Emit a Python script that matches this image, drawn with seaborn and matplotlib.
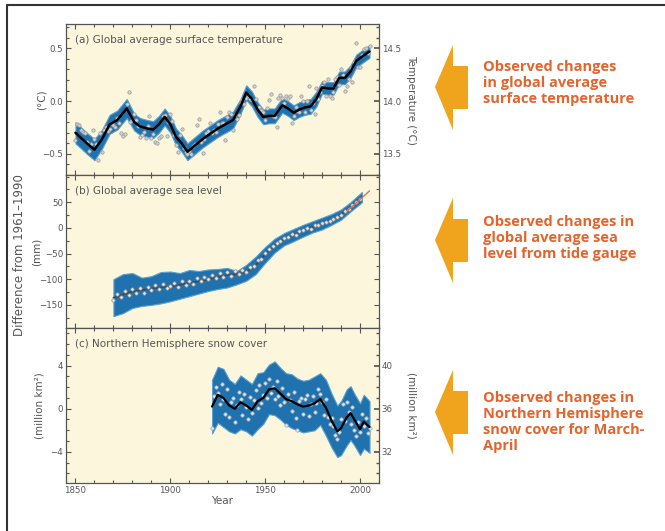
import numpy as np
import pandas as pd
import matplotlib
matplotlib.use("Agg")
import matplotlib.pyplot as plt
import seaborn as sns
from matplotlib.patches import Polygon
from matplotlib.lines import Line2D
from matplotlib.ticker import MultipleLocator

# ---------------- data ----------------
temp_years = [1850, 1853, 1856, 1860, 1864, 1868, 1872, 1877, 1881, 1884, 1888, 1891, 1894, 1897, 1900,
              1903, 1906, 1909, 1913, 1917, 1921, 1925, 1929, 1933, 1937, 1940, 1943, 1946, 1949, 1952,
              1955, 1959, 1962, 1965, 1968, 1971, 1974, 1977, 1980, 1983, 1986, 1989, 1992, 1995, 1998,
              2001, 2005]
temp_smooth = [-0.30, -0.35, -0.40, -0.46, -0.36, -0.22, -0.18, -0.07, -0.20, -0.24, -0.26, -0.27, -0.22,
               -0.15, -0.22, -0.34, -0.40, -0.48, -0.42, -0.36, -0.31, -0.26, -0.22, -0.18, -0.05, 0.08,
               0.02, -0.08, -0.15, -0.14, -0.14, -0.04, -0.07, -0.11, -0.08, -0.06, -0.05, 0.02, 0.13,
               0.12, 0.12, 0.22, 0.22, 0.28, 0.38, 0.42, 0.47]
temp_halfwidth = [0.10, 0.10, 0.10, 0.10, 0.09, 0.09, 0.09, 0.09, 0.08, 0.08, 0.08, 0.08, 0.08, 0.08, 0.08,
                  0.08, 0.08, 0.08, 0.08, 0.08, 0.08, 0.08, 0.08, 0.08, 0.07, 0.07, 0.07, 0.07, 0.07, 0.07,
                  0.07, 0.07, 0.07, 0.07, 0.07, 0.07, 0.07, 0.07, 0.06, 0.06, 0.06, 0.06, 0.06, 0.06, 0.06,
                  0.06, 0.06]
temp_annual = [-0.37, -0.22, -0.23, -0.27, -0.29, -0.30, -0.39, -0.47, -0.41, -0.27,
               -0.36, -0.41, -0.56, -0.30, -0.48, -0.27, -0.25, -0.28, -0.26, -0.21,
               -0.23, -0.25, -0.16, -0.21, -0.30, -0.33, -0.31, -0.03, 0.09, -0.20,
               -0.18, -0.12, -0.18, -0.24, -0.34, -0.32, -0.29, -0.35, -0.24, -0.14,
               -0.35, -0.31, -0.39, -0.40, -0.35, -0.33, -0.14, -0.13, -0.33, -0.20,
               -0.12, -0.19, -0.32, -0.42, -0.48, -0.32, -0.26, -0.44, -0.48, -0.50,
               -0.47, -0.50, -0.43, -0.41, -0.23, -0.17, -0.39, -0.49, -0.36, -0.30,
               -0.28, -0.21, -0.30, -0.27, -0.29, -0.22, -0.10, -0.21, -0.21, -0.37,
               -0.15, -0.10, -0.12, -0.27, -0.13, -0.17, -0.13, -0.02, 0.01, -0.03,
               0.03, 0.05, 0.02, 0.01, 0.14, 0.02, -0.07, -0.06, -0.08, -0.10,
               -0.18, -0.07, 0.01, 0.07, -0.14, -0.15, -0.25, 0.03, 0.06, 0.03,
               -0.02, 0.05, 0.03, 0.05, -0.21, -0.14, -0.06, -0.09, -0.10, 0.05,
               0.00, -0.10, 0.00, 0.14, -0.08, -0.02, -0.12, 0.12, 0.02, 0.09,
               0.14, 0.18, 0.05, 0.21, 0.05, 0.03, 0.09, 0.21, 0.23, 0.15,
               0.30, 0.25, 0.10, 0.14, 0.21, 0.31, 0.18, 0.37, 0.55, 0.32,
               0.32, 0.44, 0.49, 0.50, 0.46, 0.52]
temp_annual_years = list(range(1850, 1850 + len(temp_annual)))

sea_years = [1870, 1875, 1880, 1885, 1890, 1895, 1900, 1905, 1910, 1915, 1920, 1925, 1930, 1935,
             1940, 1945, 1950, 1955, 1960, 1965, 1970, 1975, 1980, 1985, 1990, 1995, 2001]
sea_smooth = [-136, -130, -124, -121, -118, -116, -114, -111, -107, -104, -100, -96, -92, -90,
              -86, -73, -52, -34, -22, -14, -5, 2, 9, 16, 26, 41, 60]
sea_upper = [-100, -90, -88, -97, -94, -86, -85, -88, -82, -84, -81, -80, -78, -84,
             -72, -56, -37, -21, -10, -2, 6, 13, 20, 27, 36, 50, 70]
sea_lower = [-172, -166, -156, -152, -150, -147, -143, -138, -133, -128, -123, -119, -116, -110,
             -103, -90, -68, -48, -34, -26, -17, -9, -3, 6, 16, 32, 50]
sea_annual = [-140, -128, -135, -122, -130, -120, -127, -118, -126, -115, -121, -112, -119, -110,
              -118, -113, -108, -116, -104, -111, -103, -109, -98, -104, -95, -100, -92, -97,
              -88, -95, -86, -93, -84, -90, -82, -86, -77, -74, -63, -60, -48, -42, -36, -30,
              -26, -20, -18, -12, -14, -6, -5, 0, -2, 5, 6, 10, 12, 14, 18, 22, 25, 32, 36,
              44, 50, 57]
sea_annual_years = list(range(1870, 1870 + 2 * len(sea_annual), 2))
alt_years = [1993, 1996, 1999, 2002, 2005]
alt_values = [33, 42, 52, 62, 72]

snow_years = [1922, 1925, 1928, 1931, 1934, 1937, 1940, 1943, 1946, 1949, 1952, 1955, 1958, 1961, 1964,
              1967, 1970, 1973, 1976, 1979, 1982, 1985, 1988, 1990, 1993, 1995, 1997, 2000, 2002, 2005]
snow_smooth = [0.2, 1.3, 1.0, 0.3, 0.0, 0.6, 0.3, -0.1, 0.7, 1.0, 1.8, 1.9, 1.4, 0.9, 0.7,
               0.4, 0.2, 0.3, 0.5, 0.9, 0.1, -1.1, -2.1, -1.8, -0.8, -0.4, -1.0, -1.9, -1.2, -1.7]
snow_halfwidth = [2.5, 2.6, 2.7, 2.4, 2.3, 2.5, 2.4, 2.4, 2.6, 2.4, 2.3, 2.5, 2.4, 2.4, 2.5,
                  2.4, 2.4, 2.4, 2.5, 2.4, 2.6, 2.5, 2.4, 2.5, 2.6, 2.5, 2.4, 2.4, 2.5, 2.4]
snow_annual = [-1.8, 1.2, 2.0, 1.5, 0.4, 2.3, 0.9, -0.5, 1.8, -0.8, 0.6, 1.0, -1.2, 0.3, 1.6, 0.9,
               -0.6, 1.4, 0.2, -1.0, 1.1, -0.4, 0.8, 1.7, 0.1, 2.2, 0.5, 1.3, 2.4, 1.0, 2.8, 1.5,
               2.0, 0.9, 2.6, 1.2, 0.3, 1.9, 0.6, -1.5, 1.4, 0.8, -0.2, 1.6, -0.9, -2.0, 0.7, 1.0,
               -0.5, 0.9, 1.3, -0.7, 0.4, 1.2, -0.3, 0.5, 1.8, 1.4, 0.6, -0.6, 0.9, -0.8, -1.4,
               -0.9, -1.6, -2.4, -2.8, -2.2, -1.0, 0.4, -1.1, 0.6, -0.3, -1.4, 0.2, -2.0, -2.5,
               -1.2, -2.2, -0.5, -1.6, -0.9, -2.3, -1.8]
snow_annual_years = list(range(1922, 1922 + len(snow_annual)))

panel_titles = ["(a) Global average surface temperature", "(b) Global average sea level",
                "(c) Northern Hemisphere snow cover"]
x_ticks = [1850, 1900, 1950, 2000]
arrow_texts = ["Observed changes\nin global average\nsurface temperature",
               "Observed changes in\nglobal average sea\nlevel from tide gauge",
               "Observed changes in\nNorthern Hemisphere\nsnow cover for March-\nApril"]

# ---------------- style ----------------
sns.set_theme(style="ticks")
plt.rcParams['font.family'] = ['DejaVu Sans']
W, H = 665, 531
fig = plt.figure(figsize=(W / 100, H / 100), dpi=100)
fig.patch.set_facecolor("white")

BG = "#fcf6dc"
BAND = "#1f72ae"
TXT = "#555555"
SPINE = "#555555"
TICKFS = 6.2

def px_axes(x0, y0, x1, y1):
    return fig.add_axes([x0 / W, 1 - y1 / H, (x1 - x0) / W, (y1 - y0) / H])

AX0, AX1 = 66, 379
axA = px_axes(AX0, 24, AX1, 175)
axB = px_axes(AX0, 175, AX1, 328)
axC = px_axes(AX0, 328, AX1, 483)

def xcoord(px):
    return (px - AX0) / (AX1 - AX0)

def style_ax(ax, show_x=False):
    ax.set_facecolor(BG)
    for s in ax.spines.values():
        s.set_color(SPINE)
        s.set_linewidth(0.9)
    ax.set_xlim(1845, 2010)
    ax.xaxis.set_major_locator(MultipleLocator(50))
    ax.xaxis.set_minor_locator(MultipleLocator(10))
    ax.tick_params(axis='both', which='both', direction='in', top=True, right=True,
                   colors=SPINE, labelcolor=TXT, labelsize=TICKFS, width=0.8, pad=2)
    ax.tick_params(which='major', length=3.5)
    ax.tick_params(which='minor', length=2)
    if show_x:
        ax.set_xticks(x_ticks)
        ax.set_xticklabels([str(v) for v in x_ticks])
    else:
        ax.tick_params(axis='x', labelbottom=False)
    ax.set_xlabel("")
    ax.set_ylabel("")

def style_twin(ax2):
    ax2.tick_params(axis='y', which='both', direction='in', colors=SPINE, labelcolor=TXT,
                    labelsize=TICKFS, pad=2)
    ax2.tick_params(which='major', length=3.5)
    ax2.tick_params(which='minor', length=2)
    for s in ax2.spines.values():
        s.set_visible(False)

# Panel a
d = pd.DataFrame({"year": temp_years, "v": temp_smooth, "hw": temp_halfwidth})
axA.fill_between(d["year"], d["v"] - d["hw"], d["v"] + d["hw"], color=BAND, lw=0.8, ec="#5aa0d0")
da = pd.DataFrame({"year": temp_annual_years, "v": temp_annual})
sns.scatterplot(data=da, x="year", y="v", ax=axA, s=6, color="#d2d2d2", edgecolor="#999999",
                linewidth=0.5, zorder=3)
sns.lineplot(data=d, x="year", y="v", ax=axA, color="black", lw=1.8, zorder=4)
axA.set_ylim(-0.70, 0.73)
axA.set_yticks([-0.5, 0.0, 0.5])
axA.set_yticklabels(["\u22120.5", "0.0", "0.5"])
axA.yaxis.set_minor_locator(MultipleLocator(0.1))
style_ax(axA)
axA2 = axA.twinx()
axA2.set_ylim(14.0 - 0.70, 14.0 + 0.73)
axA2.set_yticks([13.5, 14.0, 14.5])
axA2.set_yticklabels(["13.5", "14.0", "14.5"])
axA2.yaxis.set_minor_locator(MultipleLocator(0.1))
style_twin(axA2)
axA2.set_ylabel("Temperature (\u00b0C)", rotation=270, fontsize=7.5, color=TXT, va="center")
axA2.yaxis.set_label_coords(xcoord(411), 0.5)
axA.set_ylabel("(\u00b0C)", fontsize=7.5, color=TXT, va="center")
axA.yaxis.set_label_coords(xcoord(42), 0.5)

# Panel b
s_ = pd.DataFrame({"year": sea_years, "v": sea_smooth, "lo": sea_lower, "hi": sea_upper})
axB.fill_between(s_["year"], s_["lo"], s_["hi"], color=BAND, lw=0.8, ec="#5aa0d0")
sa = pd.DataFrame({"year": sea_annual_years, "v": sea_annual})
sns.lineplot(data=s_, x="year", y="v", ax=axB, color="#3a4a5a", lw=1.2, zorder=3)
sns.scatterplot(data=sa, x="year", y="v", ax=axB, s=6, color="#e8e8e8", edgecolor="#8a8a8a",
                linewidth=0.5, zorder=4)
sns.lineplot(x=alt_years, y=alt_values, ax=axB, color="#e07050", lw=1.0, zorder=5)
axB.set_ylim(-195, 103)
axB.set_yticks([-150, -100, -50, 0, 50])
axB.set_yticklabels(["\u2212150", "\u2212100", "\u221250", "0", "50"])
axB.yaxis.set_minor_locator(MultipleLocator(25))
style_ax(axB)
axB.set_ylabel("(mm)", fontsize=7.5, color=TXT, va="center")
axB.yaxis.set_label_coords(xcoord(37), 0.5)

# Panel c
c = pd.DataFrame({"year": snow_years, "v": snow_smooth, "hw": snow_halfwidth})
axC.fill_between(c["year"], c["v"] - c["hw"], c["v"] + c["hw"], color=BAND, lw=0.8, ec="#5aa0d0")
ca = pd.DataFrame({"year": snow_annual_years, "v": snow_annual})
sns.scatterplot(data=ca, x="year", y="v", ax=axC, s=6, color="#dfe6ec", edgecolor="#9aaaba",
                linewidth=0.5, zorder=3)
sns.lineplot(data=c, x="year", y="v", ax=axC, color="black", lw=1.6, zorder=4)
axC.set_ylim(-6.9, 7.5)
axC.set_yticks([-4, 0, 4])
axC.set_yticklabels(["\u22124", "0", "4"])
axC.yaxis.set_minor_locator(MultipleLocator(1))
style_ax(axC, show_x=True)
axC.set_xlabel("Year", fontsize=7.5, color=TXT, labelpad=1)
axC.set_ylabel("(million km\u00b2)", fontsize=7.5, color=TXT, va="center")
axC.yaxis.set_label_coords(xcoord(40), 0.5)
axC2 = axC.twinx()
axC2.set_ylim(36 - 6.9, 36 + 7.5)
axC2.set_yticks([32, 36, 40])
axC2.yaxis.set_minor_locator(MultipleLocator(1))
style_twin(axC2)
axC2.set_ylabel("(million km\u00b2)", rotation=270, fontsize=7.5, color=TXT, va="center")
axC2.yaxis.set_label_coords(xcoord(411), 0.5)

for ax, t in zip([axA, axB, axC], panel_titles):
    ax.text(0.03, 0.93, t, transform=ax.transAxes, fontsize=7.5, color=TXT, va="top", ha="left")

fig.text(20 / W, 1 - 255 / H, "Difference from 1961\u20131990", rotation=90, fontsize=8.5,
         color=TXT, ha="center", va="center")

# arrows and annotations
ORANGE = "#f0a31c"
TEXTC = "#e2652e"
def arrow(cy):
    pts = [(435, cy), (453, cy - 42), (453, cy - 21), (468, cy - 21), (468, cy + 22),
           (453, cy + 22), (453, cy + 43)]
    fig.patches.append(Polygon([(x / W, 1 - y / H) for x, y in pts], closed=True,
                               transform=fig.transFigure, facecolor=ORANGE, edgecolor="none"))
for cy in [87, 240, 412]:
    arrow(cy)
for cy, txt in zip([83, 238, 422], arrow_texts):
    fig.text(483 / W, 1 - cy / H, txt, fontsize=10.5, fontweight="bold", color=TEXTC,
             family=["Open Sans", "DejaVu Sans"], ha="left", va="center", linespacing=1.2)

# frame lines
fig.add_artist(Line2D([7 / W, 1], [1 - 5 / H, 1 - 5 / H], transform=fig.transFigure, color="#333333", lw=1.5))
fig.add_artist(Line2D([7 / W, 7 / W], [0, 1 - 5 / H], transform=fig.transFigure, color="#333333", lw=1.5))

fig.savefig("out.png", dpi=100, facecolor="white")
